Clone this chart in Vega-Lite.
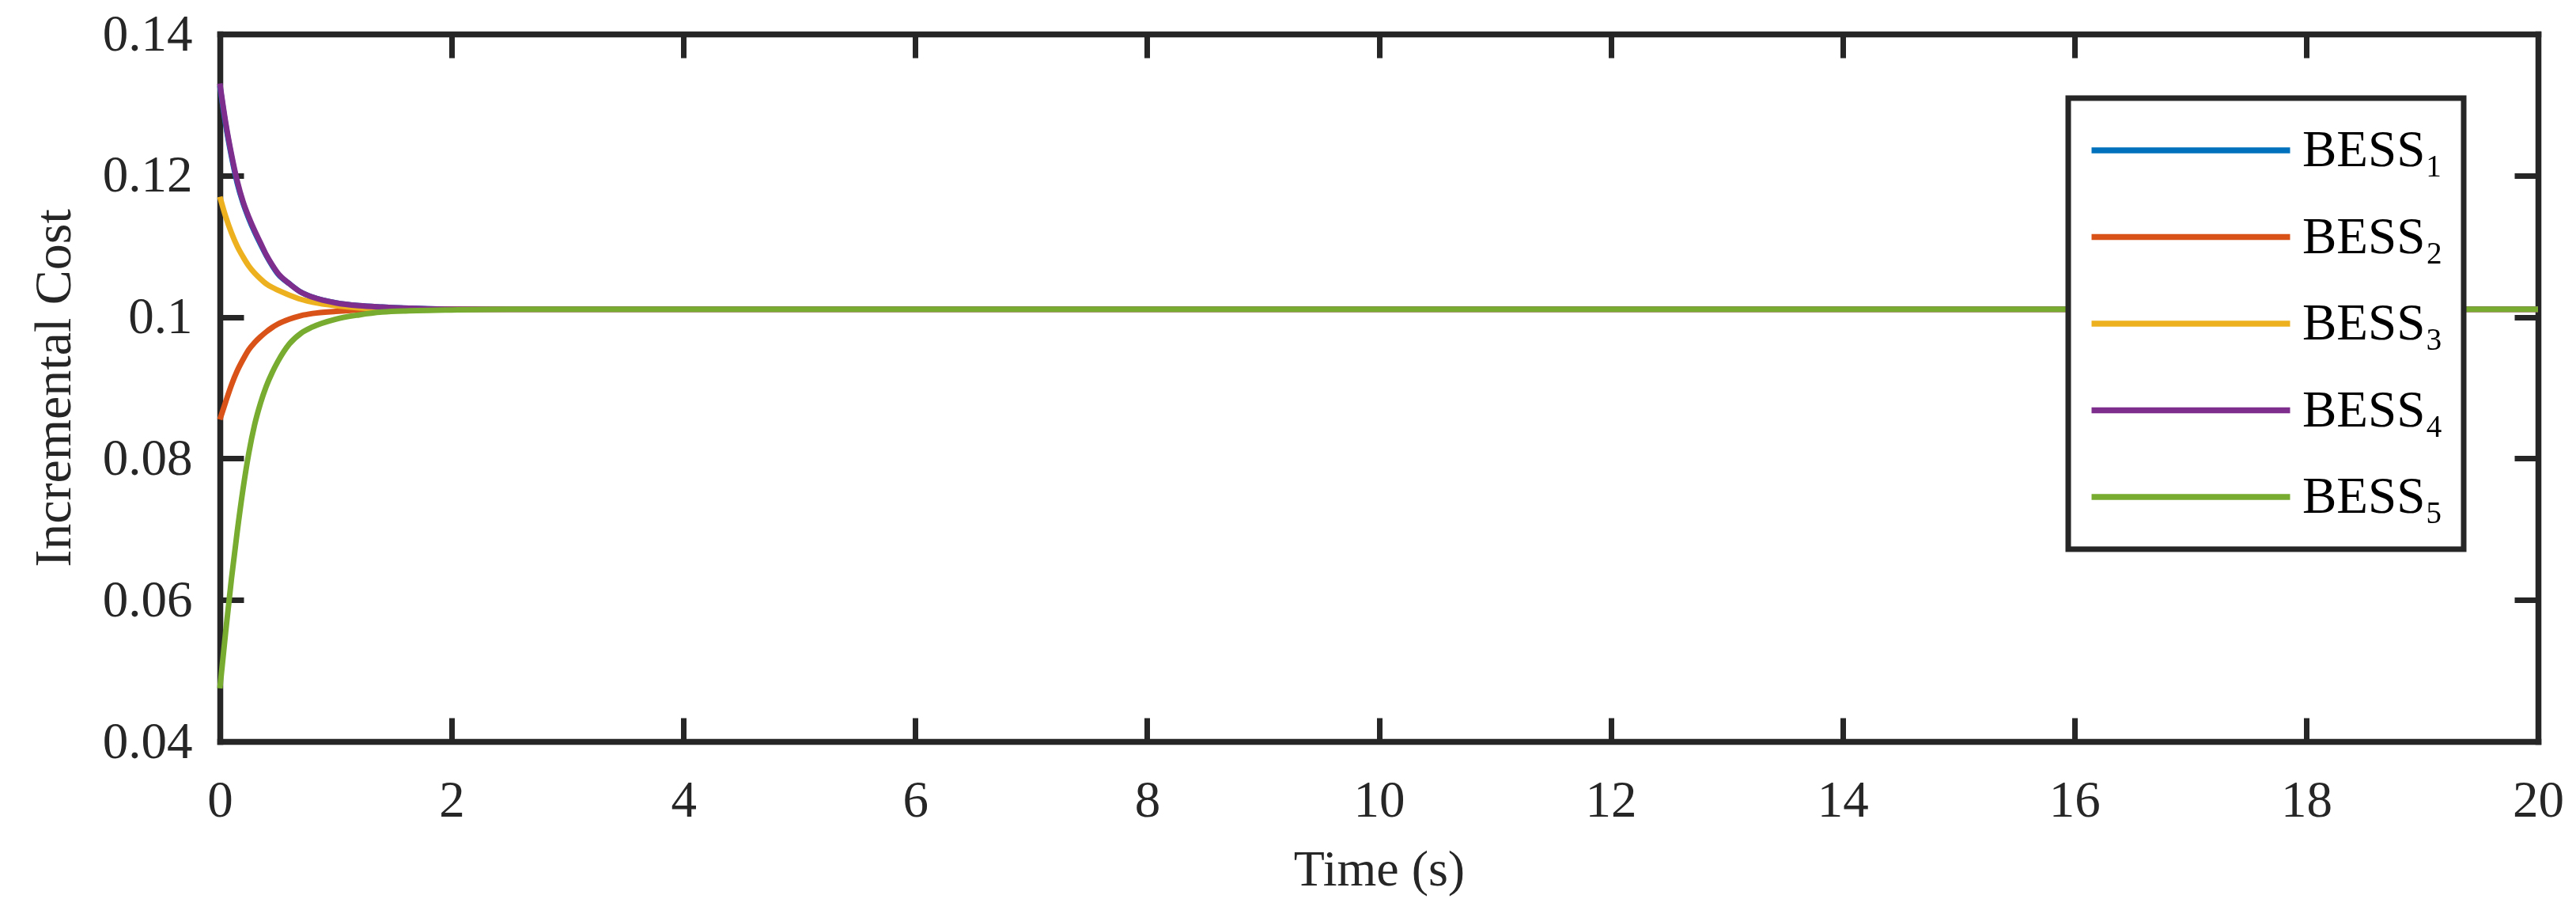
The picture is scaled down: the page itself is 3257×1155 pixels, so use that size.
{
  "$schema": "https://vega.github.io/schema/vega-lite/v6.json",
  "width": 2931,
  "height": 894,
  "autosize": {"type": "none"},
  "padding": {"left": 278, "top": 43, "right": 48, "bottom": 218},
  "background": "white",
  "config": {
    "view": {"stroke": null},
    "font": "Liberation Serif",
    "axis": {
      "domainColor": "#262626",
      "domainWidth": 7.5,
      "domainCap": "square",
      "tickColor": "#262626",
      "tickWidth": 7,
      "tickSize": -30,
      "grid": false,
      "labelFlush": false,
      "labelOverlap": false,
      "labelFont": "Liberation Serif",
      "labelFontSize": 65,
      "labelColor": "#262626",
      "titleFont": "Liberation Serif",
      "titleColor": "#262626",
      "titleFontWeight": "normal"
    },
    "legend": {
      "orient": "none",
      "legendX": 2337,
      "legendY": 81,
      "padding": 25.5,
      "rowPadding": 28.5,
      "clipHeight": 81,
      "symbolType": "stroke",
      "symbolSize": 63001,
      "symbolStrokeWidth": 7.5,
      "labelOffset": 11.5,
      "labelFont": "Liberation Serif",
      "labelFontSize": 65,
      "labelColor": "#000000",
      "labelLimit": 500,
      "strokeColor": "#262626",
      "strokeWidth": 7,
      "fillColor": "white",
      "title": null
    }
  },
  "data": {
    "values": [
      {"t": 0, "v": 0.1327, "s": "BESS₁"},
      {"t": 0.05, "v": 0.1272, "s": "BESS₁"},
      {"t": 0.1, "v": 0.1227, "s": "BESS₁"},
      {"t": 0.15, "v": 0.1189, "s": "BESS₁"},
      {"t": 0.2, "v": 0.1161, "s": "BESS₁"},
      {"t": 0.25, "v": 0.1139, "s": "BESS₁"},
      {"t": 0.3, "v": 0.1120, "s": "BESS₁"},
      {"t": 0.35, "v": 0.1103, "s": "BESS₁"},
      {"t": 0.4, "v": 0.1087, "s": "BESS₁"},
      {"t": 0.45, "v": 0.1073, "s": "BESS₁"},
      {"t": 0.5, "v": 0.1061, "s": "BESS₁"},
      {"t": 0.6, "v": 0.1047, "s": "BESS₁"},
      {"t": 0.7, "v": 0.1035, "s": "BESS₁"},
      {"t": 0.8, "v": 0.1028, "s": "BESS₁"},
      {"t": 1.0, "v": 0.1020, "s": "BESS₁"},
      {"t": 1.2, "v": 0.1016, "s": "BESS₁"},
      {"t": 1.4, "v": 0.1014, "s": "BESS₁"},
      {"t": 1.7, "v": 0.1012, "s": "BESS₁"},
      {"t": 2.0, "v": 0.1011, "s": "BESS₁"},
      {"t": 20, "v": 0.1011, "s": "BESS₁"},

      {"t": 0, "v": 0.0855, "s": "BESS₂"},
      {"t": 0.05, "v": 0.0880, "s": "BESS₂"},
      {"t": 0.1, "v": 0.0904, "s": "BESS₂"},
      {"t": 0.15, "v": 0.0924, "s": "BESS₂"},
      {"t": 0.2, "v": 0.0940, "s": "BESS₂"},
      {"t": 0.25, "v": 0.0954, "s": "BESS₂"},
      {"t": 0.3, "v": 0.0964, "s": "BESS₂"},
      {"t": 0.35, "v": 0.0972, "s": "BESS₂"},
      {"t": 0.4, "v": 0.0979, "s": "BESS₂"},
      {"t": 0.45, "v": 0.0985, "s": "BESS₂"},
      {"t": 0.5, "v": 0.0990, "s": "BESS₂"},
      {"t": 0.6, "v": 0.0997, "s": "BESS₂"},
      {"t": 0.7, "v": 0.1002, "s": "BESS₂"},
      {"t": 0.8, "v": 0.1005, "s": "BESS₂"},
      {"t": 1.0, "v": 0.1008, "s": "BESS₂"},
      {"t": 1.2, "v": 0.1010, "s": "BESS₂"},
      {"t": 1.5, "v": 0.1011, "s": "BESS₂"},
      {"t": 2.0, "v": 0.1011, "s": "BESS₂"},
      {"t": 20, "v": 0.1011, "s": "BESS₂"},

      {"t": 0, "v": 0.1170, "s": "BESS₃"},
      {"t": 0.05, "v": 0.1142, "s": "BESS₃"},
      {"t": 0.1, "v": 0.1119, "s": "BESS₃"},
      {"t": 0.15, "v": 0.1100, "s": "BESS₃"},
      {"t": 0.2, "v": 0.1085, "s": "BESS₃"},
      {"t": 0.25, "v": 0.1072, "s": "BESS₃"},
      {"t": 0.3, "v": 0.1062, "s": "BESS₃"},
      {"t": 0.35, "v": 0.1054, "s": "BESS₃"},
      {"t": 0.4, "v": 0.1047, "s": "BESS₃"},
      {"t": 0.45, "v": 0.1042, "s": "BESS₃"},
      {"t": 0.5, "v": 0.1038, "s": "BESS₃"},
      {"t": 0.6, "v": 0.1031, "s": "BESS₃"},
      {"t": 0.7, "v": 0.1025, "s": "BESS₃"},
      {"t": 0.8, "v": 0.1021, "s": "BESS₃"},
      {"t": 1.0, "v": 0.1016, "s": "BESS₃"},
      {"t": 1.2, "v": 0.1013, "s": "BESS₃"},
      {"t": 1.4, "v": 0.1012, "s": "BESS₃"},
      {"t": 1.7, "v": 0.1011, "s": "BESS₃"},
      {"t": 2.0, "v": 0.1011, "s": "BESS₃"},
      {"t": 20, "v": 0.1011, "s": "BESS₃"},

      {"t": 0, "v": 0.1330, "s": "BESS₄"},
      {"t": 0.05, "v": 0.1275, "s": "BESS₄"},
      {"t": 0.1, "v": 0.1230, "s": "BESS₄"},
      {"t": 0.15, "v": 0.1192, "s": "BESS₄"},
      {"t": 0.2, "v": 0.1163, "s": "BESS₄"},
      {"t": 0.25, "v": 0.1141, "s": "BESS₄"},
      {"t": 0.3, "v": 0.1122, "s": "BESS₄"},
      {"t": 0.35, "v": 0.1105, "s": "BESS₄"},
      {"t": 0.4, "v": 0.1088, "s": "BESS₄"},
      {"t": 0.45, "v": 0.1074, "s": "BESS₄"},
      {"t": 0.5, "v": 0.1062, "s": "BESS₄"},
      {"t": 0.6, "v": 0.1047, "s": "BESS₄"},
      {"t": 0.7, "v": 0.1035, "s": "BESS₄"},
      {"t": 0.8, "v": 0.1028, "s": "BESS₄"},
      {"t": 1.0, "v": 0.1020, "s": "BESS₄"},
      {"t": 1.2, "v": 0.1016, "s": "BESS₄"},
      {"t": 1.4, "v": 0.1014, "s": "BESS₄"},
      {"t": 1.7, "v": 0.1012, "s": "BESS₄"},
      {"t": 2.0, "v": 0.1011, "s": "BESS₄"},
      {"t": 20, "v": 0.1011, "s": "BESS₄"},

      {"t": 0, "v": 0.0475, "s": "BESS₅"},
      {"t": 0.05, "v": 0.0555, "s": "BESS₅"},
      {"t": 0.1, "v": 0.0630, "s": "BESS₅"},
      {"t": 0.15, "v": 0.0697, "s": "BESS₅"},
      {"t": 0.2, "v": 0.0757, "s": "BESS₅"},
      {"t": 0.25, "v": 0.0808, "s": "BESS₅"},
      {"t": 0.3, "v": 0.0848, "s": "BESS₅"},
      {"t": 0.35, "v": 0.0878, "s": "BESS₅"},
      {"t": 0.4, "v": 0.0902, "s": "BESS₅"},
      {"t": 0.45, "v": 0.0921, "s": "BESS₅"},
      {"t": 0.5, "v": 0.0937, "s": "BESS₅"},
      {"t": 0.6, "v": 0.0962, "s": "BESS₅"},
      {"t": 0.7, "v": 0.0977, "s": "BESS₅"},
      {"t": 0.8, "v": 0.0986, "s": "BESS₅"},
      {"t": 1.0, "v": 0.0997, "s": "BESS₅"},
      {"t": 1.2, "v": 0.1003, "s": "BESS₅"},
      {"t": 1.4, "v": 0.1007, "s": "BESS₅"},
      {"t": 1.7, "v": 0.1009, "s": "BESS₅"},
      {"t": 2.0, "v": 0.1010, "s": "BESS₅"},
      {"t": 2.5, "v": 0.1011, "s": "BESS₅"},
      {"t": 20, "v": 0.1011, "s": "BESS₅"}
    ]
  },
  "layer": [
    {
      "mark": {"type": "line", "strokeWidth": 7, "interpolate": "monotone"},
      "encoding": {
        "x": {
          "field": "t", "type": "quantitative",
          "scale": {"domain": [0, 20], "nice": false, "zero": false},
          "axis": {
            "orient": "bottom",
            "values": [0, 2, 4, 6, 8, 10, 12, 14, 16, 18, 20],
            "format": "d",
            "labelPadding": 73,
            "labelBaseline": "top",
            "title": "Time (s)",
            "titleFontSize": 64,
            "titleBaseline": "alphabetic",
            "titleY": 181
          }
        },
        "y": {
          "field": "v", "type": "quantitative",
          "scale": {"domain": [0.04, 0.14], "nice": false, "zero": false},
          "axis": {
            "orient": "left",
            "values": [0.04, 0.06, 0.08, 0.1, 0.12, 0.14],
            "format": "~g",
            "labelPadding": 65,
            "title": "Incremental Cost",
            "titleFontSize": 66,
            "titleBaseline": "alphabetic",
            "titleAngle": -90,
            "titleX": -190,
            "titleY": 447
          }
        },
        "color": {
          "field": "s", "type": "nominal",
          "scale": {
            "domain": ["BESS₁", "BESS₂", "BESS₃", "BESS₄", "BESS₅"],
            "range": ["#0072BD", "#D95319", "#EDB120", "#7E2F8E", "#77AC30"]
          },
          "legend": {"title": null}
        }
      }
    },
    {
      "mark": {"type": "line", "strokeOpacity": 0, "strokeWidth": 0},
      "encoding": {
        "x": {
          "field": "t", "type": "quantitative",
          "axis": {
            "orient": "top",
            "values": [0, 2, 4, 6, 8, 10, 12, 14, 16, 18, 20],
            "labels": false,
            "title": null
          }
        },
        "y": {
          "field": "v", "type": "quantitative",
          "axis": {
            "orient": "right",
            "values": [0.04, 0.06, 0.08, 0.1, 0.12, 0.14],
            "labels": false,
            "title": null
          }
        },
        "detail": {"field": "s"}
      }
    }
  ]
}
